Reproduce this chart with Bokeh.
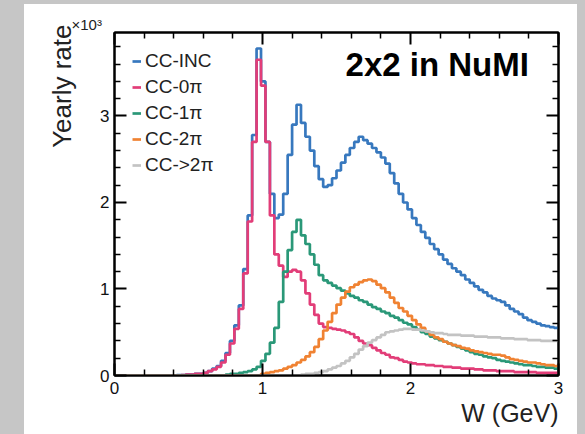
from bokeh.plotting import figure
from bokeh.models import FixedTicker, LinearAxis, Label, Legend, LegendItem, Range1d, Title, Div
from bokeh.layouts import row, column
from bokeh.embed import file_html
from bokeh.resources import INLINE

# ---- data (yearly rate in units of 10^3, 100 bins of 0.03 GeV from 0 to 3 GeV) ----
bin_width = 0.03
n_bins = 100
bin_edges = [round(i * bin_width, 4) for i in range(n_bins + 1)]

cc_inc = [0, 0, 0, 0, 0, 0, 0, 0, 0, 0,
          0, 0, 0, 0, 0.005, 0.005, 0.01, 0.01, 0.02, 0.02,
          0.03, 0.05, 0.08, 0.11, 0.17, 0.26, 0.40, 0.58, 0.81, 1.23,
          1.85, 2.78, 3.78, 3.40, 2.70, 2.10, 1.82, 1.86, 2.10, 2.55,
          2.90, 3.13, 2.92, 2.76, 2.60, 2.42, 2.27, 2.18, 2.20, 2.28,
          2.37, 2.46, 2.55, 2.63, 2.70, 2.76, 2.72, 2.68, 2.63, 2.58,
          2.52, 2.45, 2.34, 2.22, 2.10, 2.00, 1.92, 1.82, 1.74, 1.66,
          1.59, 1.52, 1.46, 1.40, 1.34, 1.29, 1.24, 1.20, 1.16, 1.11,
          1.07, 1.03, 0.99, 0.96, 0.92, 0.89, 0.87, 0.85, 0.81, 0.77,
          0.74, 0.71, 0.67, 0.64, 0.62, 0.60, 0.58, 0.57, 0.56, 0.55]

cc_0pi = [0, 0, 0, 0, 0, 0, 0, 0, 0, 0,
          0, 0, 0, 0, 0, 0.005, 0.01, 0.01, 0.02, 0.02,
          0.03, 0.05, 0.07, 0.10, 0.15, 0.24, 0.37, 0.54, 0.77, 1.18,
          1.78, 2.70, 3.65, 3.35, 2.70, 1.85, 1.40, 1.27, 1.14, 1.20,
          1.22, 1.20, 1.10, 0.95, 0.82, 0.70, 0.60, 0.56, 0.55, 0.54,
          0.53, 0.52, 0.50, 0.48, 0.44, 0.40, 0.37, 0.35, 0.32, 0.29,
          0.26, 0.24, 0.21, 0.20, 0.18, 0.16, 0.15, 0.14, 0.13, 0.13,
          0.12, 0.12, 0.11, 0.11, 0.10, 0.10, 0.09, 0.09, 0.08, 0.08,
          0.08, 0.07, 0.07, 0.06, 0.06, 0.06, 0.05, 0.05, 0.05, 0.05,
          0.04, 0.04, 0.04, 0.04, 0.04, 0.03, 0.03, 0.03, 0.03, 0.03]

cc_1pi = [0, 0, 0, 0, 0, 0, 0, 0, 0, 0,
          0, 0, 0, 0, 0, 0, 0, 0, 0, 0,
          0, 0, 0, 0, 0, 0.01, 0.02, 0.02, 0.03, 0.04,
          0.05, 0.07, 0.10, 0.17, 0.25, 0.38, 0.55, 0.85, 1.20, 1.45,
          1.66, 1.80, 1.62, 1.52, 1.40, 1.28, 1.16, 1.10, 1.07, 1.04,
          1.01, 0.98, 0.95, 0.92, 0.90, 0.87, 0.85, 0.82, 0.79, 0.77,
          0.74, 0.72, 0.69, 0.67, 0.64, 0.61, 0.59, 0.56, 0.53, 0.50,
          0.48, 0.45, 0.43, 0.41, 0.39, 0.37, 0.35, 0.33, 0.31, 0.29,
          0.27, 0.25, 0.24, 0.22, 0.21, 0.20, 0.18, 0.17, 0.16, 0.15,
          0.14, 0.13, 0.12, 0.12, 0.11, 0.10, 0.10, 0.09, 0.09, 0.08]

cc_2pi = [0, 0, 0, 0, 0, 0, 0, 0, 0, 0,
          0, 0, 0, 0, 0, 0, 0, 0, 0, 0,
          0, 0, 0, 0, 0, 0, 0, 0, 0, 0,
          0, 0, 0, 0.02, 0.03, 0.04, 0.05, 0.06, 0.08, 0.10,
          0.12, 0.15, 0.18, 0.22, 0.27, 0.33, 0.42, 0.52, 0.62, 0.72,
          0.82, 0.90, 0.97, 1.02, 1.05, 1.08, 1.10, 1.11, 1.09, 1.05,
          1.01, 0.96, 0.90, 0.84, 0.78, 0.74, 0.69, 0.64, 0.59, 0.55,
          0.51, 0.47, 0.44, 0.42, 0.39, 0.37, 0.35, 0.34, 0.32, 0.31,
          0.29, 0.28, 0.27, 0.26, 0.25, 0.24, 0.24, 0.23, 0.21, 0.19,
          0.18, 0.17, 0.16, 0.15, 0.15, 0.14, 0.13, 0.12, 0.12, 0.11]

cc_gt2pi = [0, 0, 0, 0, 0, 0, 0, 0, 0, 0,
            0, 0, 0, 0, 0, 0, 0, 0, 0, 0,
            0, 0, 0, 0, 0, 0, 0, 0, 0, 0,
            0, 0, 0, 0, 0, 0, 0, 0, 0, 0,
            0, 0, 0.01, 0.02, 0.02, 0.03, 0.04, 0.05, 0.07, 0.09,
            0.11, 0.14, 0.17, 0.21, 0.25, 0.30, 0.34, 0.38, 0.41, 0.44,
            0.47, 0.50, 0.51, 0.52, 0.53, 0.54, 0.54, 0.53, 0.53, 0.52,
            0.51, 0.50, 0.49, 0.49, 0.48, 0.47, 0.47, 0.47, 0.46, 0.46,
            0.46, 0.45, 0.45, 0.45, 0.44, 0.44, 0.44, 0.43, 0.43, 0.43,
            0.42, 0.42, 0.42, 0.41, 0.41, 0.41, 0.40, 0.40, 0.40, 0.40]

series_labels = ["CC-INC", "CC-0\u03c0", "CC-1\u03c0", "CC-2\u03c0", "CC->2\u03c0"]
series_values = [cc_inc, cc_0pi, cc_1pi, cc_2pi, cc_gt2pi]
series_colors = ["#3778be", "#e23d78", "#2a9878", "#f08232", "#c3c3c3"]

x_major = [0, 1, 2, 3]
y_major = [0, 1, 2, 3]
x_minor = [0.2, 0.4, 0.6, 0.8, 1.2, 1.4, 1.6, 1.8, 2.2, 2.4, 2.6, 2.8]
y_minor = [0.2, 0.4, 0.6, 0.8, 1.2, 1.4, 1.6, 1.8, 2.2, 2.4, 2.6, 2.8, 3.2, 3.4, 3.6, 3.8]

FONT = "Liberation Sans"
GRAY = "#c6c6c6"

p = figure(width=553, height=430, output_backend="svg", toolbar_location=None,
           x_range=Range1d(0, 3), y_range=Range1d(0, 3.965),
           min_border_left=87, min_border_right=19, min_border_top=28, min_border_bottom=59,
           x_axis_location=None, y_axis_location=None, margin=0)
p.background_fill_color = "white"
p.border_fill_color = "white"
p.outline_line_color = "black"
p.outline_line_width = 2
p.xgrid.visible = False
p.ygrid.visible = False


def style_axis(ax, ticks, minors, show_labels, size):
    ax.ticker = FixedTicker(ticks=ticks, minor_ticks=minors)
    ax.axis_line_color = "black"
    ax.axis_line_width = 2
    ax.major_tick_in = 12
    ax.major_tick_out = 0
    ax.minor_tick_in = 6
    ax.minor_tick_out = 0
    ax.major_tick_line_width = 2
    ax.minor_tick_line_width = 1.5
    ax.major_tick_line_color = "black"
    ax.minor_tick_line_color = "black"
    ax.major_label_text_font = FONT
    ax.major_label_text_color = "#111111"
    if show_labels:
        ax.major_label_text_font_size = size
    else:
        ax.major_label_text_font_size = "1px"
        ax.major_label_text_alpha = 0


xb = LinearAxis()
style_axis(xb, x_major, x_minor, True, "17px")
xb.major_label_standoff = 6
p.add_layout(xb, "below")

yl = LinearAxis()
style_axis(yl, y_major, y_minor, True, "17px")
yl.major_label_standoff = 5
p.add_layout(yl, "left")

xt = LinearAxis()
style_axis(xt, x_major, x_minor, False, "1px")
xt.major_label_standoff = 0
p.add_layout(xt, "above")

yr = LinearAxis()
style_axis(yr, y_major, y_minor, False, "1px")
yr.major_label_standoff = 0
p.add_layout(yr, "right")

items = []
for lab, vals, col in zip(series_labels, series_values, series_colors):
    r = p.step(x=bin_edges, y=vals + [vals[-1]], mode="after", line_color=col, line_width=2.7)
    items.append(LegendItem(label=lab, renderers=[r]))

legend = Legend(items=items, location="top_left")
legend.margin = 18
legend.padding = 0
legend.spacing = 4
legend.glyph_width = 9
legend.glyph_height = 20
legend.label_height = 20
legend.label_standoff = 4
legend.label_text_font = FONT
legend.label_text_font_size = "19px"
legend.label_text_color = "#222222"
legend.background_fill_alpha = 0
legend.border_line_color = None
p.add_layout(legend)

p.add_layout(Label(x=2.8, y=3.6, text="2x2 in NuMI", text_align="right",
                   text_baseline="alphabetic", text_font=FONT, text_font_size="33px",
                   text_font_style="bold", text_color="black"))

# axis titles placed at the axis ends, ROOT style
p.add_layout(Title(text="W (GeV)", align="right", text_font=FONT, text_font_size="25px",
                   text_font_style="normal", text_color="#222222", standoff=0), "below")
p.add_layout(Title(text="Yearly rate", align="right", offset=-8, text_font=FONT,
                   text_font_size="26px", text_font_style="normal", text_color="#222222",
                   standoff=41), "left")
p.add_layout(Title(text="\u00d710\u00b3", align="left", offset=-43, text_font=FONT,
                   text_font_size="15px", text_font_style="normal", text_color="#222222",
                   standoff=0), "above")

left_strip = Div(width=24, height=434, margin=0, styles={"background-color": GRAY})
top_strip = Div(width=553, height=4, margin=0, styles={"background-color": GRAY})
right_strip = Div(width=8, height=434, margin=0, styles={"background-color": GRAY})
layout = row(left_strip, column(top_strip, p, margin=0, spacing=0), right_strip,
             margin=0, spacing=0)

open("out.html", "w").write(file_html(layout, INLINE))
